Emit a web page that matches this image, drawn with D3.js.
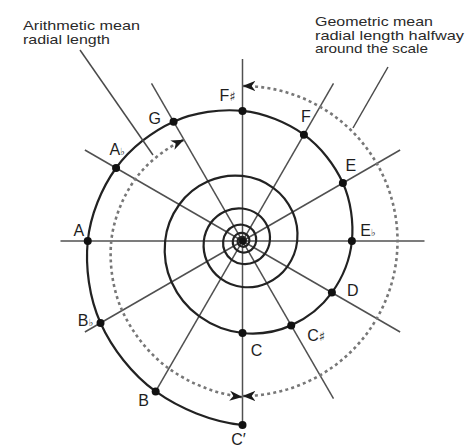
<!DOCTYPE html>
<html><head><meta charset="utf-8">
<script src="https://cdn.jsdelivr.net/npm/d3@7"></script>
<style>html,body{margin:0;padding:0;background:#fff;}svg{display:block;}</style>
</head><body>
<script>
// ---- data ----
const notes = ["C","C♯","D","E♭","E","F","F♯","G","A♭","A","B♭","B","C′"];
const semitones = [0,1,2,3,4,5,6,7,8,9,10,11,12];
const ratios = [1.000,1.059,1.122,1.189,1.260,1.335,1.414,1.498,1.587,1.682,1.782,1.888,2.000];
const geoMeanRatio = 1.685;      // dashed circle (right half)
const dashedSpiralScale = 0.848; // dashed spiral (left half)
const annoArith = ["Arithmetic mean","radial length"];
const annoGeo = ["Geometric mean","radial length halfway","around the scale"];

// ---- layout ----
const W = 465, H = 447, cx = 242.5, cy = 241;
const svg = d3.select("body").append("svg").attr("width",W).attr("height",H);
const g = svg.append("g").attr("transform",`translate(${cx},${cy})`);

const theta = d3.scaleLinear().domain([0,12]).range([0,360]);   // ccw from bottom
const rScale = d3.scaleLinear().domain([0,2]).range([0,184]);
const toA = s => (180 - theta(s)) * Math.PI/180;
const pt = (s, ratio) => { const a = toA(s), r = rScale(ratio); return [r*Math.sin(a), -r*Math.cos(a)]; };

// smooth curve through pts[1..n-2], using pts[0] and pts[n-1] only as tangent guides
function smooth(pts) {
  const p = d3.path();
  p.moveTo(pts[1][0], pts[1][1]);
  for (let i = 1; i < pts.length - 2; i++) {
    const a = pts[i-1], b = pts[i], c = pts[i+1], d = pts[i+2];
    p.bezierCurveTo(b[0]+(c[0]-a[0])/6, b[1]+(c[1]-a[1])/6,
                    c[0]-(d[0]-b[0])/6, c[1]-(d[1]-b[1])/6, c[0], c[1]);
  }
  return p.toString();
}

const defs = svg.append("defs");
defs.append("marker").attr("id","arr").attr("viewBox","0 -6 14 12")
  .attr("refX",14).attr("refY",0).attr("markerWidth",13).attr("markerHeight",11)
  .attr("markerUnits","userSpaceOnUse").attr("orient","auto-start-reverse")
  .append("path").attr("d","M0,-5.5 L14,0 L0,5.5 L4,0 Z").attr("fill","#1a1a1a");

// spokes
const spokeG = g.append("g");
semitones.slice(0,12).forEach(s => {
  let len = 182;
  if (s === 11) len = rScale(ratios[11]);
  if (s === 0) len = rScale(ratios[12]);
  const a = toA(s);
  spokeG.append("line").attr("x1",0).attr("y1",0)
    .attr("x2",len*Math.sin(a)).attr("y2",-len*Math.cos(a))
    .attr("stroke","#505050").attr("stroke-width",1.5);
});

// spiral (inner octaves + main octave), with guide points at both ends
const spiralPts = [pt(11, ratios[11]/64)];
for (let k = 5; k >= 1; k--) semitones.slice(0,12).forEach(s => spiralPts.push(pt(s, ratios[s]/Math.pow(2,k))));
semitones.forEach(s => spiralPts.push(pt(s, ratios[s])));
spiralPts.push(pt(13, ratios[1]*2));
g.append("path").attr("d", smooth(spiralPts))
  .attr("fill","none").attr("stroke","#222").attr("stroke-width",2.2);

// dashed geometric circle (right half)
const rc = rScale(geoMeanRatio);
const cp = d3.path(); cp.moveTo(0, rc); cp.arc(0, 0, rc, Math.PI/2, -Math.PI/2, true);
g.append("path").attr("d", cp.toString())
  .attr("fill","none").attr("stroke","#777").attr("stroke-width",2.6)
  .attr("stroke-dasharray","3 3.2")
  .attr("marker-start","url(#arr)").attr("marker-end","url(#arr)");

// dashed spiral (left half)
const dsPts = [pt(6, ratios[6]*dashedSpiralScale)]
  .concat(semitones.slice(7).map(s => pt(s, ratios[s]*dashedSpiralScale)))
  .concat([pt(13, ratios[1]*2*dashedSpiralScale)]);
g.append("path").attr("d", smooth(dsPts))
  .attr("fill","none").attr("stroke","#777").attr("stroke-width",2.6)
  .attr("stroke-dasharray","3 3.2")
  .attr("marker-start","url(#arr)").attr("marker-end","url(#arr)");

// dots
g.selectAll("circle.note").data(semitones).join("circle").attr("class","note")
  .attr("cx", s => pt(s, ratios[s])[0]).attr("cy", s => pt(s, ratios[s])[1])
  .attr("r",4).attr("fill","#111");
g.append("circle").attr("r",3.5).attr("fill","#111");

// labels
const labelOff = [[14,17],[25,10],[21,-3],[16,-11],[8,-18],[2,-19],[-15,-16],[-19,-4],[1,-19],[-9,-11],[-15,-3],[-12,9],[-4,14]];
const lab = g.append("g").attr("font-family","'Liberation Sans', Arial, sans-serif")
  .attr("font-size",16).attr("fill","#1e1e1e");
semitones.forEach(s => {
  const p = pt(s, ratios[s]);
  const t = lab.append("text").attr("x", p[0]+labelOff[s][0]).attr("y", p[1]+labelOff[s][1]+6)
    .attr("text-anchor","middle");
  const name = notes[s];
  t.append("tspan").text(name[0]);
  if (name.length > 1) {
    const acc = name.slice(1);
    if (acc === "♭") t.append("tspan").attr("font-size",10).attr("font-family","'DejaVu Sans'").text(acc);
    else if (acc === "♯") t.append("tspan").attr("font-size",13).attr("font-family","'DejaVu Sans'").text(acc);
    else t.append("tspan").text(acc);
  }
});

// annotations
const anno = svg.append("g").attr("font-family","'Liberation Sans', Arial, sans-serif")
  .attr("font-size",13.5).attr("fill","#2a2a2a");
const arithW = [117, 87], geoW = [118, 149, 113];
annoArith.forEach((s,i) => anno.append("text").attr("x",23).attr("y",30+i*13.5)
  .attr("textLength",arithW[i]).attr("lengthAdjust","spacingAndGlyphs").text(s));
annoGeo.forEach((s,i) => anno.append("text").attr("x",315).attr("y",26+i*13.5)
  .attr("textLength",geoW[i]).attr("lengthAdjust","spacingAndGlyphs").text(s));

// leader lines
svg.append("line").attr("x1",80).attr("y1",50).attr("x2",153).attr("y2",155)
  .attr("stroke","#4a4a4a").attr("stroke-width",1.5);
svg.append("line").attr("x1",388).attr("y1",67).attr("x2",353).attr("y2",128)
  .attr("stroke","#4a4a4a").attr("stroke-width",1.5);
</script>
</body></html>
